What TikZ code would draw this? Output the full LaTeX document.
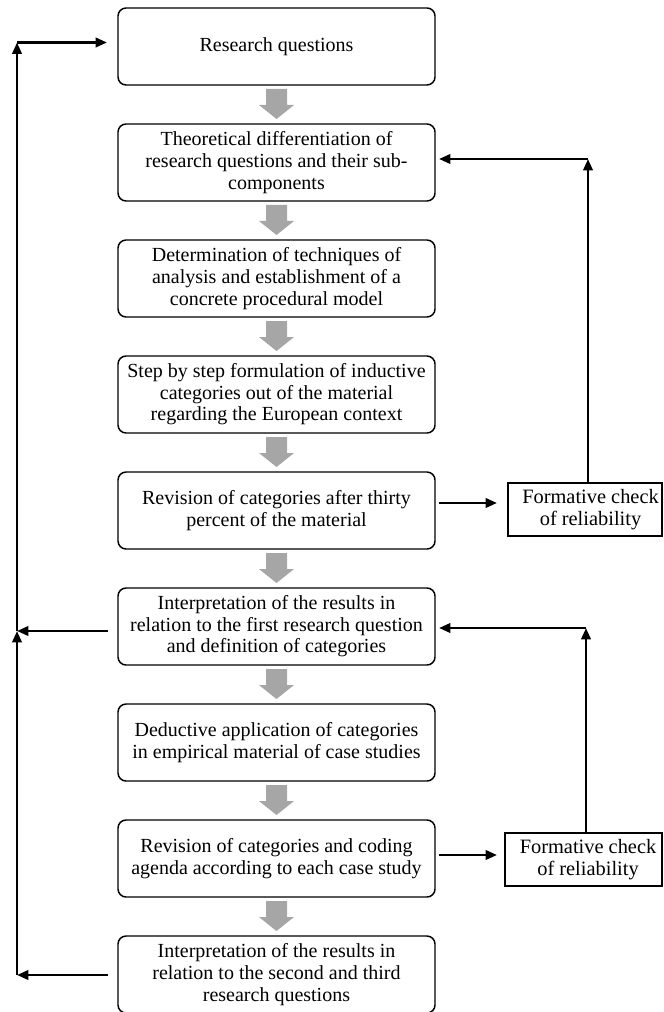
\documentclass[tikz,border=0pt]{standalone}
\usepackage{fontspec}
\setmainfont{Liberation Serif}
\usetikzlibrary{arrows.meta}
\definecolor{arrowgrey}{RGB}{166,166,166}
\tikzset{
  stepbox/.style={draw=black, line width=1.1pt, rounded corners=6pt, fill=white,
    minimum width=237.75pt, minimum height=57.75pt, inner sep=0pt, outer sep=0pt,
    align=center, font=\fontsize{15}{16.2}\selectfont},
  checkbox/.style={draw=black, line width=1.1pt, fill=white,
    minimum height=39.75pt, inner sep=0pt, outer sep=0pt},
  checktext/.style={align=center, inner sep=0pt, font=\fontsize{15.3}{17}\selectfont},
  fb/.style={line width=2pt, -{Triangle[length=8.5pt, width=7pt]}},
  downarrow/.pic={\fill[arrowgrey] (-10.5,0) -- (10.5,0) -- (10.5,16) -- (17.5,16)
    -- (0,30) -- (-17.5,16) -- (-10.5,16) -- cycle;}
}
\begin{document}
\begin{tikzpicture}[x=0.75pt, y=-0.75pt]
\useasboundingbox (0,0) rectangle (663,1012);

% main sequence of steps
\node[stepbox] (b1) at (276.5,46.5)  {Research questions};
\node[stepbox] (b2) at (276.5,162.5) {Theoretical differentiation of\\research questions and their sub-\\components};
\node[stepbox] (b3) at (276.5,278.5) {Determination of techniques of\\analysis and establishment of a\\concrete procedural model};
\node[stepbox] (b4) at (276.5,394.5) {Step by step formulation of inductive\\categories out of the material\\regarding the European context};
\node[stepbox] (b5) at (276.5,510.5) {Revision of categories after thirty\\percent of the material};
\node[stepbox] (b6) at (276.5,626.5) {Interpretation of the results in\\relation to the first research question\\and definition of categories};
\node[stepbox] (b7) at (276.5,742.5) {Deductive application of categories\\in empirical material of case studies};
\node[stepbox] (b8) at (276.5,858.5) {Revision of categories and coding\\agenda according to each case study};
\node[stepbox] (b9) at (276.5,974.5) {Interpretation of the results in\\relation to the second and third\\research questions};

% reliability checks (text sits a little right of the box centre)
\node[checkbox, minimum width=115.5pt]  (fA) at (585,509.5) {};
\node[checktext] (tA) at ([shift={(5.5,0)}]fA.center) {Formative check\\of reliability};
\node[checkbox, minimum width=117.75pt] (fB) at (583.5,859.5) {};
\node[checktext] (tB) at ([shift={(4.5,0)}]fB.center) {Formative check\\of reliability};

% grey block arrows between steps
\foreach \a/\b in {b1/b2,b2/b3,b3/b4,b4/b5,b5/b6,b6/b7,b7/b8,b8/b9}
  \pic at ([yshift=-3pt]\a.south) {downarrow};

% steps to checks
\draw[fb] ([shift={(4,-7.5)}]b5.east) -- ([shift={(-11,-6.5)}]fA.west);
\draw[fb] ([shift={(4,-3.5)}]b8.east) -- ([shift={(-8,-4.5)}]fB.west);

% feedback from checks
\path (fA.north |- b2.east) ++(3,-3.5) coordinate (cA);
\draw[fb] ([shift={(3,0)}]fA.north) -- (cA);
\draw[fb] (cA) -- ([shift={(4,-3.5)}]b2.east);

\path (fB.north |- b6.east) ++(2.5,1.5) coordinate (cB);
\draw[fb] ([shift={(2.5,0)}]fB.north) -- (cB);
\draw[fb] (cB) -- ([shift={(4,1.5)}]b6.east);

% loop back to the research questions
\path (b9.west) ++(-101,0.5) coordinate (l9);
\path (b6.west) ++(-101,4.5) coordinate (l6);
\path (b1.west) ++(-101,-4)  coordinate (l1);
\draw[fb] ([shift={(-10,0.5)}]b9.west) -- (l9);
\draw[fb] ([shift={(-10,4.5)}]b6.west) -- (l6);
\draw[fb] (l9) -- (l6);
\draw[fb] (l6) -- (l1);
\draw[fb] (l1) -- ([shift={(-11,-4)}]b1.west);
\end{tikzpicture}
\end{document}
